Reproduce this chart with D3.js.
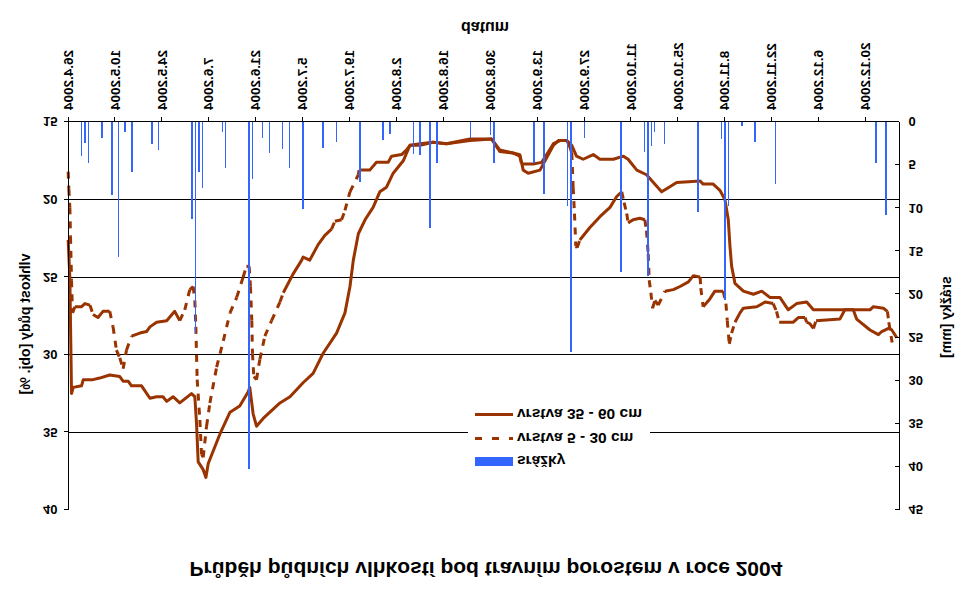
<!DOCTYPE html>
<html><head><meta charset="utf-8">
<script src="https://cdn.jsdelivr.net/npm/d3@7"></script>
<style>
body{margin:0;background:#fff}
svg{display:block}
</style></head>
<body><svg id="c" width="970" height="604"></svg>
<script>
// ---------- data ----------
const tickLabels = ["26.4.2004","10.5.2004","24.5.2004","7.6.2004","21.6.2004","5.7.2004","19.7.2004","2.8.2004","16.8.2004","30.8.2004","13.9.2004","27.9.2004","11.10.2004","25.10.2004","8.11.2004","22.11.2004","6.12.2004","20.12.2004"];
const leftTicks = [15,20,25,30,35,40];
const rightTicks = [0,5,10,15,20,25,30,35,40,45];

// precipitation (srážky) [mm]
const rainDates = ["30.4","1.5","2.5","6.5","9.5","11.5","13.5","15.5","21.5","23.5","2.6","3.6","4.6","5.6","11.6","12.6","19.6","20.6","23.6","25.6","29.6","1.7","5.7","11.7","15.7","22.7","29.7","31.7","7.8","9.8","12.8","14.8","24.8","30.8","31.8","12.9","15.9","22.9","23.9","27.9","8.10","15.10","16.10","17.10","18.10","21.10","31.10","7.11","8.11","9.11","13.11","17.11","23.11","23.12","26.12"];
const rainMm = [4.0,2.4,4.8,1.9,8.5,15.7,1.2,5.8,2.6,3.3,11.2,24.5,5.8,7.6,1.2,5.3,40.3,6.6,1.8,3.6,3.1,5.3,10.1,3.0,2.3,7.0,2.1,1.4,3.7,3.8,12.3,4.8,1.9,1.5,4.8,4.8,8.4,9.8,26.7,1.9,17.4,3.5,17.9,2.8,1.2,2.6,10.4,2.0,20.6,9.7,0.5,2.3,7.2,4.7,10.8];

// vrstva 35 - 60 cm : day of year 2004 / moisture [obj. %]
const deepDays = [117.2,117.7,118.2,118.7,121.2,121.7,124.6,126.6,129.6,132.6,133.6,135.1,136.1,139.1,141.6,143.6,145.5,146.6,148.5,150.5,154.0,155.0,155.5,156.0,157.5,158.3,159.0,162.5,165.5,168.4,170.9,171.4,172.4,173.4,175.4,180.4,183.4,187.3,190.3,193.3,197.3,199.8,201.3,202.3,203.8,205.8,208.2,210.2,212.2,214.2,217.2,219.2,222.2,226.1,230.1,237.1,243.6,244.6,246.0,250.0,252.0,253.0,254.5,258.0,260.0,262.0,263.5,266.0,267.5,268.9,270.9,273.9,275.9,279.9,282.9,284.3,286.9,289.8,294.3,295.8,298.8,305.8,306.7,309.7,311.7,313.2,314.2,314.7,315.2,316.2,318.7,321.7,324.2,326.6,329.6,332.1,334.6,337.6,339.6,351.5,352.5,356.5,359.0,360.0,362.0,363.0,364.5];
const deepVal = [22.6,25.0,32.5,32.1,32.0,31.6,31.6,31.5,31.3,31.4,31.7,31.7,32.0,32.0,32.8,32.7,32.7,33.0,32.7,33.1,32.5,32.7,34.4,36.9,37.4,37.9,37.0,35.1,33.7,33.3,32.4,32.1,33.8,34.6,34.1,33.1,32.7,31.8,31.2,29.9,28.6,27.3,25.6,23.9,22.2,21.3,20.5,19.5,19.2,18.3,17.5,16.5,16.5,16.3,16.4,16.2,16.1,16.4,16.8,17.0,17.1,18.1,18.3,18.1,17.3,16.5,16.2,16.2,16.5,17.2,17.4,17.1,17.4,17.4,17.2,17.4,18.1,18.4,19.5,19.3,18.9,18.8,19.0,19.0,19.4,20.0,21.3,23.0,24.3,25.4,25.9,26.1,25.9,26.3,26.3,27.1,26.7,26.6,27.1,27.1,27.7,28.4,28.7,28.5,28.3,28.4,28.9];

// vrstva 5 - 30 cm : day of year 2004 / moisture [obj. %]
const shallowDays = [117.2,117.4,117.7,117.9,118.2,118.5,119.2,121.2,122.2,123.7,124.6,126.1,127.6,129.6,130.6,131.6,132.6,133.6,134.6,136.1,138.6,140.6,141.6,143.6,146.6,149.0,150.5,152.0,153.5,154.5,155.0,155.3,155.7,156.5,157.0,157.5,158.5,159.5,161.5,163.5,165.5,167.5,169.4,170.4,171.2,171.6,172.0,172.2,172.6,173.4,174.4,175.9,177.9,180.4,181.4,184.3,186.9,187.3,189.3,191.8,193.8,195.8,196.8,198.8,199.8,201.3,203.8,204.0,207.2,209.2,212.7,213.7,216.7,218.2,219.2,222.2,226.1,230.1,237.1,243.6,245.1,246.0,250.0,252.0,252.5,256.0,258.5,260.0,262.0,264.0,266.1,266.9,267.5,267.9,268.3,268.7,269.1,269.9,272.9,275.9,278.9,280.9,282.4,283.1,283.9,284.3,285.8,287.8,289.3,289.8,290.3,290.6,291.1,291.6,292.3,293.3,295.3,297.8,299.8,302.3,303.8,305.8,306.0,306.7,308.7,310.2,312.7,313.5,313.9,314.5,315.2,316.2,317.7,318.7,322.7,325.2,327.6,328.6,329.4,333.6,335.1,337.1,337.6,338.6,339.6,340.4,347.5,349.0,356.5,357.5,360.5,361.7,362.1,363.1];
const shallowVal = [18.2,19.3,20.5,22.4,25.2,27.3,26.9,26.9,26.7,26.8,27.4,27.6,27.2,27.2,28.2,29.7,30.2,30.9,29.7,28.8,28.6,28.5,28.2,27.9,27.8,27.2,27.8,27.1,25.8,25.6,26.5,28.2,31.6,34.2,36.4,36.6,34.6,33.1,30.8,29.1,27.3,26.3,25.0,24.3,24.3,25.6,27.8,29.9,31.4,31.6,30.3,28.8,27.8,26.6,26.0,24.8,23.9,23.7,23.9,22.9,22.3,21.9,21.4,21.3,20.7,19.5,18.4,18.1,18.1,17.6,17.6,17.2,17.1,16.8,16.5,16.4,16.3,16.4,16.1,16.1,16.6,16.9,17.0,17.2,17.7,17.7,17.6,17.1,16.4,16.2,16.2,16.6,17.0,19.2,20.9,23.0,23.1,22.6,21.8,21.1,20.5,19.8,19.5,20.2,20.9,21.5,21.3,21.2,21.3,22.0,23.5,25.2,26.0,27.0,26.5,26.8,25.9,25.8,25.6,25.3,24.9,25.0,25.7,26.9,26.4,25.9,25.9,26.7,27.8,29.3,28.6,27.9,27.3,27.0,26.9,26.6,26.7,27.2,27.9,27.9,27.6,27.6,27.9,28.0,28.3,27.8,27.7,27.1,27.1,26.9,27.0,27.2,27.9,29.2];

const titleText = "Průběh půdních vlhkostí pod travním porostem v roce 2004";
const xTitle = "datum", yLTitle = "vlhkost půdy [obj. %]", yRTitle = "srážky [mm]";
const legendNames = ["srážky","vrstva 5 - 30 cm","vrstva 35 - 60 cm"];

// ---------- helpers ----------
const FONT = "'Liberation Sans', Arial, sans-serif";
const BROWN = "#993300", BLUE = "#3366ff";
const parseDM = s => { const p = s.split("."); return new Date(Date.UTC(p[2] ? +p[2] : 2004, +p[1]-1, +p[0])); };
const fromDoy = n => new Date(Date.UTC(2004,0,1) + (n-1)*864e5);

const svg = d3.select("#c");
svg.append("rect").attr("width",970).attr("height",604).attr("fill","#fff");
// whole chart is shown mirrored vertically
const root = svg.append("g").attr("transform","translate(0,604) scale(1,-1)");

const x = d3.scaleUtc().domain([new Date(Date.UTC(2004,3,26)), new Date(Date.UTC(2004,11,30))]).range([67.5,898.5]);
const yL = d3.scaleLinear().domain([15,40]).range([482,94]);
const yR = d3.scaleLinear().domain([0,45]).range([482,94]);

// gridlines
root.append("g").selectAll("line").data(leftTicks.filter(v=>v>15 && v<40)).join("line")
  .attr("x1",67.5).attr("x2",898.5).attr("y1",d=>yL(d)).attr("y2",d=>yL(d))
  .attr("stroke","#000").attr("stroke-width",1).attr("shape-rendering","crispEdges");

// deep layer (solid)
const deep = deepDays.map((d,i)=>({t:fromDoy(d), v:deepVal[i]}));
const line = d3.line().x(d=>x(d.t)).y(d=>yL(d.v));
root.append("path").datum(deep).attr("d",line).attr("fill","none")
  .attr("stroke",BROWN).attr("stroke-width",3).attr("stroke-linejoin","round");

// shallow layer (dashed – dashes show where the curve is steep)
const shallow = shallowDays.map((d,i)=>({t:fromDoy(d), v:shallowVal[i]}));
const runs = []; let cur = [shallow[0]];
for (let i=1;i<shallow.length;i++){
  const a = shallow[i-1], b = shallow[i];
  const dx = Math.abs(x(b.t)-x(a.t)), dy = Math.abs(yL(b.v)-yL(a.v));
  if (dy > 2*dx && dy > 4){
    if (cur.length>1) runs.push({pts:cur, dashed:false});
    runs.push({pts:[a,b], dashed:true});
    cur = [b];
  } else cur.push(b);
}
if (cur.length>1) runs.push({pts:cur, dashed:false});
root.append("g").selectAll("path").data(runs).join("path")
  .attr("d",r=>line(r.pts)).attr("fill","none").attr("stroke",BROWN).attr("stroke-width",3)
  .attr("stroke-linejoin","round")
  .attr("stroke-dasharray",r=>r.dashed?"7,7":null);

// precipitation bars
const rain = rainDates.map((d,i)=>({t:parseDM(d), mm:rainMm[i]}));
root.append("g").selectAll("rect").data(rain).join("rect")
  .attr("x",d=>x(d.t)).attr("width",1.5)
  .attr("y",d=>yR(d.mm)).attr("height",d=>yR(0)-yR(d.mm))
  .attr("fill",BLUE).attr("shape-rendering","crispEdges");

// axes
function styleAxis(g, size){
  g.attr("font-family",FONT).attr("font-size",size).attr("font-weight","bold");
  g.selectAll("path,line").attr("stroke","#000").attr("shape-rendering","crispEdges");
  g.selectAll("text").attr("fill","#000");
}
const gL = root.append("g").attr("transform","translate(67.5,0)")
  .call(d3.axisLeft(yL).tickValues(leftTicks).tickSize(4).tickSizeOuter(0).tickPadding(6));
styleAxis(gL,13);
const gR = root.append("g").attr("transform","translate(898.5,0)")
  .call(d3.axisRight(yR).tickValues(rightTicks).tickSizeInner(-4).tickSizeOuter(0).tickPadding(10));
styleAxis(gR,13);
const tickDates = tickLabels.map(parseDM);
const gX = root.append("g").attr("transform","translate(0,482)")
  .call(d3.axisBottom(x).tickValues(tickDates).tickSize(5).tickSizeOuter(0).tickFormat((d,i)=>tickLabels[i]));
styleAxis(gX,13.5);
gX.selectAll("text").attr("transform","rotate(-90)").attr("x",-12).attr("y",0)
  .attr("dy","0.35em").attr("text-anchor","end");

// titles
const T = (txt,size) => root.append("text").text(txt).attr("font-family",FONT)
  .attr("font-weight","bold").attr("font-size",size).attr("fill","#000").attr("text-anchor","middle");
T(titleText,21).attr("x",486).attr("y",42);
T(xTitle,16).attr("x",485).attr("y",582);
T(yLTitle,14).attr("transform","translate(29.5,280) rotate(-90)");
T(yRTitle,14).attr("transform","translate(950.5,287) rotate(-90)");

// legend
const lg = root.append("g");
lg.append("rect").attr("x",468).attr("y",130).attr("width",182).attr("height",72).attr("fill","#fff");
const legY = [142.5,165.5,189.5];
lg.append("rect").attr("x",475).attr("y",138).attr("width",38).attr("height",9).attr("fill",BLUE);
lg.append("line").attr("x1",475).attr("x2",513).attr("y1",legY[1]).attr("y2",legY[1])
  .attr("stroke",BROWN).attr("stroke-width",3).attr("stroke-dasharray","7,10");
lg.append("line").attr("x1",475).attr("x2",513).attr("y1",legY[2]).attr("y2",legY[2])
  .attr("stroke",BROWN).attr("stroke-width",3);
lg.selectAll("text").data(legendNames).join("text").text(d=>d)
  .attr("x",517).attr("y",(d,i)=>legY[i]).attr("dy","0.35em")
  .attr("font-family",FONT).attr("font-weight","bold").attr("font-size",15.5).attr("fill","#000");
</script>
</body></html>
